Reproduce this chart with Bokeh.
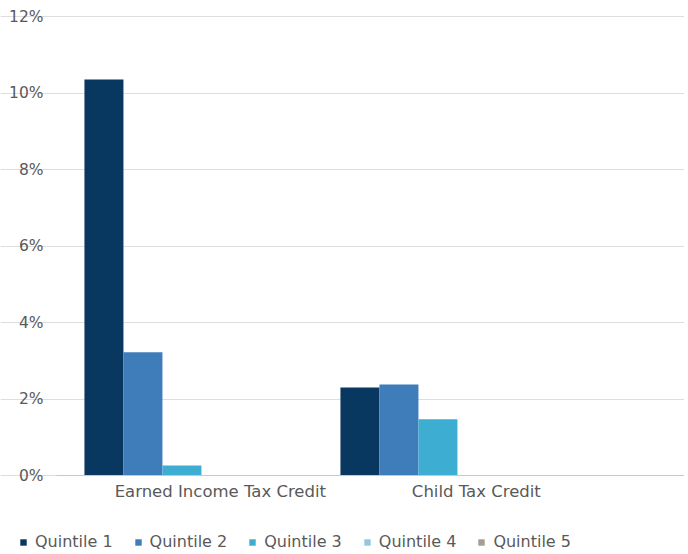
import numpy as np
from bokeh.plotting import figure
from bokeh.models import (ColumnDataSource, Legend, LegendItem, FixedTicker,
                          PrintfTickFormatter, Range1d)
from bokeh.embed import file_html
from bokeh.resources import INLINE

# ---- data ----
categories = ["Earned Income Tax Credit", "Child Tax Credit"]
quintiles = ["Quintile 1", "Quintile 2", "Quintile 3", "Quintile 4", "Quintile 5"]
q1 = [10.35, 2.30]
q2 = [3.22, 2.38]
q3 = [0.26, 1.47]
q4 = [0.0, 0.0]
q5 = [0.0, 0.0]
series = [q1, q2, q3, q4, q5]
colors = ["#08375F", "#3F7CBA", "#3DADD1", "#92C7E0", "#A59D94"]
y_ticks = [0, 2, 4, 6, 8, 10, 12]

# ---- layout constants ----
W, H = 684, 550
px_x = 256.0          # pixels per category
px_y = 459.0 / 12     # pixels per percentage point
bar_w = 39 / px_x
cat_centers = np.arange(len(categories)) + 0.5
label_offset = 0.15
x0 = 0.01                          # left edge of plotting area (data units)
x_start = x0 - 56 / px_x
x_end = x_start + W / px_x
y_end = 12 + 16 / px_y
y_start = y_end - H / px_y
text_color = "#595959"
font = "DejaVu Sans"

p = figure(width=W, height=H, output_backend="svg", toolbar_location=None,
           x_range=Range1d(x_start, x_end), y_range=Range1d(y_start, y_end),
           min_border_left=0, min_border_right=0, min_border_top=0,
           min_border_bottom=0)
p.outline_line_color = None

renderers = []
for j, (vals, col) in enumerate(zip(series, colors)):
    xs = cat_centers + (j - 2) * bar_w
    src = ColumnDataSource(dict(x=xs, top=vals))
    r = p.vbar(x="x", top="top", bottom=0, width=bar_w, source=src,
               fill_color=col, line_color=None)
    renderers.append(r)

# y axis drawn at the left edge of the plotting area
p.yaxis.fixed_location = x0
p.yaxis.ticker = FixedTicker(ticks=y_ticks)
p.yaxis.formatter = PrintfTickFormatter(format="%d%%")
p.yaxis.axis_line_color = None
p.yaxis.major_tick_line_color = None
p.yaxis.minor_tick_line_color = None
p.yaxis.major_label_text_color = text_color
p.yaxis.major_label_text_font = font
p.yaxis.major_label_text_font_size = "15.5px"
p.yaxis.major_label_standoff = 7

# x axis at zero
tick_pos = list(cat_centers + label_offset)
p.xaxis.fixed_location = 0
p.xaxis.bounds = (x0, x_end)
p.xaxis.ticker = FixedTicker(ticks=tick_pos)
p.xaxis.major_label_overrides = {float(t): c for t, c in zip(tick_pos, categories)}
p.xaxis.axis_line_color = "#c8c8c8"
p.xaxis.major_tick_line_color = None
p.xaxis.minor_tick_line_color = None
p.xaxis.major_label_text_color = text_color
p.xaxis.major_label_text_font = font
p.xaxis.major_label_text_font_size = "16.5px"
p.xaxis.major_label_standoff = 0

p.xgrid.grid_line_color = None
p.ygrid.ticker = FixedTicker(ticks=y_ticks)
p.ygrid.bounds = (x0, x_end)
p.ygrid.grid_line_color = "#dedede"

legend = Legend(items=[LegendItem(label=q, renderers=[r]) for q, r in zip(quintiles, renderers)],
                orientation="horizontal", location=(19, -1),
                glyph_width=8, glyph_height=8, label_standoff=8, spacing=21,
                padding=0, margin=0, border_line_color=None, background_fill_alpha=0,
                label_text_font=font, label_text_font_size="16px",
                label_text_color=text_color, label_height=16)
p.add_layout(legend, "center")

open("out.html", "w").write(file_html(p, INLINE))
